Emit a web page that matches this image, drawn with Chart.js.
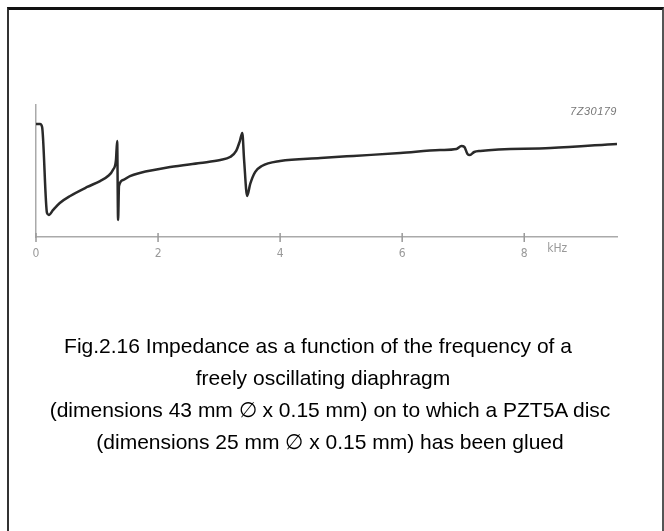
<!DOCTYPE html>
<html>
<head>
<meta charset="utf-8">
<script src="https://cdn.jsdelivr.net/npm/chart.js@4"></script>
<style>
  html, body { margin: 0; padding: 0; background: #fff; overflow: hidden; }
  #wrap { position: relative; width: 664px; height: 531px; }
  #frame { position: absolute; left: 7px; top: 7px; width: 653px; height: 600px;
    border-top: 3px solid #111; border-left: 2px solid #333; border-right: 2px solid #555; }
  #chart { position: absolute; left: 0; top: 0; }
  #code { position: absolute; right: 47px; top: 105px; font: italic 11px "Liberation Sans", Arial, sans-serif;
    color: #777; letter-spacing: 0.5px; }
  #caption { position: absolute; left: 8px; width: 644px; top: 330px; text-align: center;
    font: 21px "Liberation Sans", Arial, sans-serif; color: #000; line-height: 32px; }
</style>
</head>
<body>
<div id="wrap">
  <canvas id="chart" width="664" height="531"></canvas>
  <div id="frame"></div>
  <div id="code">7Z30179</div>
  <div id="caption">
    <div style="padding-right:24px">Fig.2.16 Impedance as a function of the frequency of a</div>
    <div style="padding-right:14px">freely oscillating diaphragm</div>
    <div>(dimensions 43 mm &#8709; x 0.15 mm) on to which a PZT5A disc</div>
    <div>(dimensions 25 mm &#8709; x 0.15 mm) has been glued</div>
  </div>
</div>
<script>
// frequency in kHz and impedance (arbitrary units)
const freqKHz = [0, 0.066, 0.1, 0.18, 0.21, 0.28, 0.39, 0.56, 0.84, 1.05, 1.18, 1.26, 1.31, 1.33,
  1.345, 1.36, 1.43, 1.54, 1.70, 2.20, 2.69, 3.02, 3.18, 3.28, 3.34, 3.38, 3.41, 3.46, 3.51,
  3.59, 3.70, 4.0, 4.66, 5.20, 5.97, 6.62, 6.89, 6.97, 7.02, 7.07, 7.11, 7.18, 7.28, 8.43, 9.52];
const impedance = [8.56, 8.56, 8.33, 1.82, 1.67, 2.05, 2.58, 3.11, 3.79, 4.24, 4.62, 5.08, 5.83, 7.27,
  1.29, 3.86, 4.32, 4.62, 4.85, 5.30, 5.61, 5.83, 6.06, 6.52, 7.27, 7.88, 5.83, 3.11, 4.02,
  4.92, 5.38, 5.76, 5.98, 6.14, 6.36, 6.59, 6.67, 6.89, 6.82, 6.29, 6.21, 6.44, 6.52, 6.74, 7.05];
const xTicks = [0, 2, 4, 6, 8];
const xUnit = 'kHz';

const points = freqKHz.map((f, i) => ({ x: f, y: impedance[i] }));

const axisMarks = {
  id: 'axisMarks',
  afterDraw(chart) {
    const ctx = chart.ctx;
    const xs = chart.scales.x;
    const y0 = chart.chartArea.bottom;
    ctx.save();
    ctx.strokeStyle = '#999';
    ctx.lineWidth = 1.5;
    xTicks.forEach(v => {
      const px = xs.getPixelForValue(v);
      ctx.beginPath();
      ctx.moveTo(px, y0 - 4);
      ctx.lineTo(px, y0 + 5);
      ctx.stroke();
    });
    ctx.fillStyle = '#999';
    ctx.font = '12px "DejaVu Sans Condensed", "DejaVu Sans", sans-serif';
    ctx.textAlign = 'center';
    ctx.textBaseline = 'top';
    ctx.fillText(xUnit, xs.getPixelForValue(8) + 33, y0 + 6);
    ctx.restore();
  }
};

new Chart(document.getElementById('chart'), {
  type: 'scatter',
  data: {
    datasets: [{
      data: points,
      showLine: true,
      borderColor: '#2a2a2a',
      borderWidth: 2.5,
      pointRadius: 0,
      cubicInterpolationMode: 'monotone'
    }]
  },
  options: {
    responsive: false,
    animation: false,
    layout: { padding: { left: 36, top: 105, right: 47, bottom: 264 } },
    plugins: { legend: { display: false }, tooltip: { enabled: false } },
    scales: {
      x: {
        type: 'linear', min: 0, max: 9.52,
        afterFit: s => { s.height = 30; },
        afterBuildTicks: s => { s.ticks = xTicks.map(v => ({ value: v })); },
        grid: { display: false },
        border: { display: true, color: '#aaa', width: 1.5 },
        ticks: { padding: 2, color: '#999', font: { family: '"DejaVu Sans Condensed", "DejaVu Sans", sans-serif', size: 12 } }
      },
      y: {
        type: 'linear', min: 0, max: 10,
        afterFit: s => { s.width = 0; },
        grid: { display: false },
        border: { display: true, color: '#aaa', width: 1.5 },
        ticks: { display: false }
      }
    }
  },
  plugins: [axisMarks]
});
</script>
</body>
</html>
